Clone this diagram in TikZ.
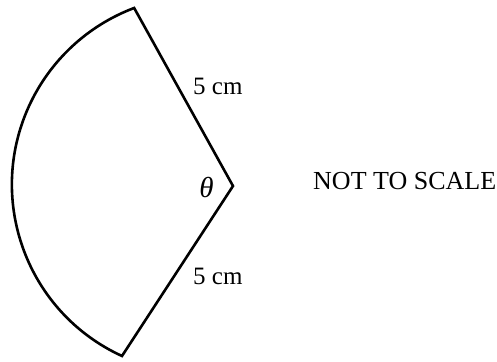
\documentclass[tikz,border=0pt]{standalone}
\usepackage{fontspec}
\setmainfont{Liberation Serif}
\begin{document}
\begin{tikzpicture}[x=1pt,y=1pt,
  edge/.style={line width=2.6pt, line join=miter},
  lbl/.style={inner sep=0pt, font=\fontsize{25}{28}\selectfont}]
\useasboundingbox (0,0) rectangle (497,361);
\coordinate (O) at (233,175);
\coordinate (A) at (134,353);
\coordinate (B) at (122,5);
\draw[edge] (O) -- (B) arc[start angle=245.4, end angle=110.6, radius=188.6] -- cycle;
\node[lbl, anchor=base west] (top) at (193,266) {5 cm};
\node[lbl, anchor=base west] (bot) at (193,76) {5 cm};
\node[lbl, font=\fontsize{29}{30}\selectfont\itshape] (theta) at (206.5,173) {θ};
\node[lbl, anchor=base west, font=\fontsize{26}{28}\selectfont] (nts) at (313,171) {NOT TO SCALE};
\end{tikzpicture}
\end{document}
